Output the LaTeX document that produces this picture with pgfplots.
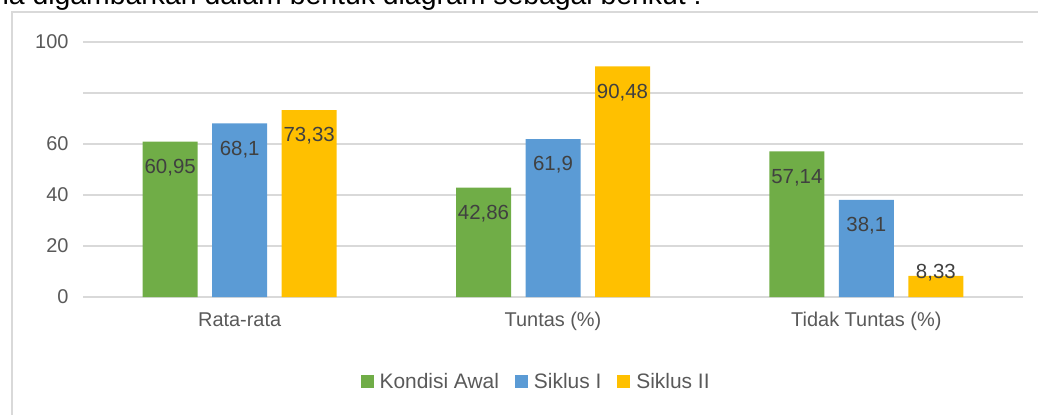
\documentclass[border=0pt]{standalone}
\usepackage{fontspec}
\setmainfont{Liberation Sans}
\usepackage{pgfplots}
\pgfplotsset{compat=1.18}
\definecolor{cgreen}{HTML}{70AD47}
\definecolor{cblue}{HTML}{5B9BD5}
\definecolor{cyellow}{HTML}{FFC000}
\definecolor{cgrid}{HTML}{D9D9D9}
\definecolor{ctext}{HTML}{595959}
\definecolor{clabel}{HTML}{404040}
\begin{document}
\begin{tikzpicture}[x=1bp,y=1bp]
\path[use as bounding box] (0,0) rectangle (1038,414);
\begin{scope}
\clip (0,0) rectangle (1038,414);
\node[anchor=base east, inner sep=0pt, font=\fontsize{28.5}{32}\selectfont] at (702,409) {sina digambarkan dalam bentuk diagram sebagai berikut :};
\draw[cgrid, line width=1.5bp] (12,-10) -- (12,402) -- (1050,402);
\end{scope}
\begin{axis}[
 at={(83bp,117bp)}, anchor=south west,
 scale only axis, width=940bp, height=255bp,
 xmin=-0.5, xmax=2.5, ymin=0, ymax=100,
 ybar=14.5bp, bar width=55bp,
 xtick={0,1,2}, xticklabels={Rata-rata, Tuntas (\%), Tidak Tuntas (\%)},
 ytick={0,20,40,60,80,100}, yticklabels={0,20,40,60,,100},
 ymajorgrids, grid style={cgrid, line width=1.5bp},
 axis line style={draw=none}, major tick length=0pt,
 ticklabel style={font=\fontsize{20}{24}\selectfont, text=ctext},
 yticklabel style={xshift=-11bp},
 xticklabel style={yshift=-12bp},
 /pgf/number format/assume math mode=true,
 nodes near coords={\pgfmathprintnumber[use comma,precision=2]{\pgfplotspointmeta}},
 every node near coord/.append style={anchor=center, yshift=-26bp, font=\fontsize{20.5}{24}\selectfont, text=clabel},
 coordinate style/.condition={rawy<15}{yshift=29bp},
 legend style={at={(axis description cs:0.482,-0.333)}, anchor=center, draw=none, fill=none, legend columns=3, font=\fontsize{21}{25}\selectfont, text=ctext, /tikz/every even column/.append style={column sep=14bp}},
 legend image code/.code={\fill[#1] (0bp,-6.5bp) rectangle (13bp,6.5bp); \path (17bp,0bp);},
]
\addplot[fill=cgreen, draw=none] coordinates {(0,60.95) (1,42.86) (2,57.14)};
\addplot[fill=cblue, draw=none] coordinates {(0,68.1) (1,61.9) (2,38.1)};
\addplot[fill=cyellow, draw=none] coordinates {(0,73.33) (1,90.48) (2,8.33)};
\legend{Kondisi Awal, Siklus I, Siklus II}
\end{axis}
\end{tikzpicture}
\end{document}
